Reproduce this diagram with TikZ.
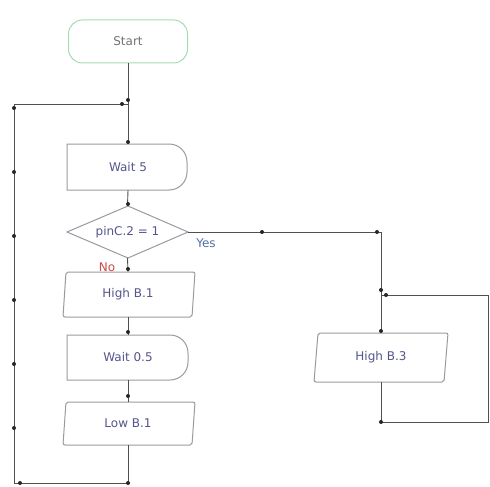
\documentclass[tikz,border=0pt]{standalone}
\usepackage{fontspec}
\setmainfont{DejaVu Sans}
\definecolor{shapegray}{HTML}{9A9AA2}
\definecolor{linegray}{HTML}{505050}
\definecolor{txtblue}{HTML}{55558C}
\definecolor{startgreen}{HTML}{A6DDB0}
\definecolor{yesblue}{HTML}{5070A0}
\definecolor{nored}{HTML}{D04848}
\tikzset{
  conn/.style={draw=linegray, line width=0.9pt},
  jdot/.style={circle, fill=black!85, inner sep=0pt, minimum size=4pt},
  outline/.style={draw=shapegray, line width=1pt, fill=white},
  lbl/.style={font=\fontsize{12}{14}\selectfont, text=txtblue, inner sep=0pt},
  hold/.style={lbl, draw=none, minimum width=120pt},
}
\begin{document}
\begin{tikzpicture}[x=1pt,y=-1pt]
\useasboundingbox[fill=white] (0,0) rectangle (490,487);

% outlines of delay, decision and I/O shapes
\draw[outline] (67,144) -- (169,144) .. controls (179,144) and (187,152) .. (187,162)
  -- (187,172) .. controls (187,182) and (179,190) .. (169,190) -- (67,190) -- cycle;
\draw[outline] (67,335) -- (170,335) .. controls (180,335) and (188,343) .. (188,353)
  -- (188,362) .. controls (188,372) and (180,380) .. (170,380) -- (67,380) -- cycle;
\draw[outline] (67,232) -- (128,206) -- (188,232) -- (128,258) -- cycle;
\draw[outline, rounded corners=2pt] (66,272) -- (195,272) -- (192,317) -- (63,317) -- cycle;
\draw[outline, rounded corners=2pt] (66,402) -- (195,402) -- (192,445) -- (63,445) -- cycle;
\draw[outline, rounded corners=2pt] (318,333) -- (448,333) -- (444,382) -- (314,382) -- cycle;

% nodes
\node[lbl, text=black!55, draw=startgreen, line width=1pt, rounded corners=14pt,
      minimum width=119pt, minimum height=43pt] (start) at (128,41.5) {Start};
\node[hold, minimum height=46pt] (w5) at (128,167) {Wait 5};
\node[hold, minimum width=121pt, minimum height=52pt] (dec) at (127.5,232) {pinC.2 = 1};
\node[hold, minimum height=45pt] (hb1) at (128,294.5) {High B.1};
\node[hold, minimum height=45pt] (w05) at (128,357.5) {Wait 0.5};
\node[hold, minimum height=43pt] (lb1) at (128,423.5) {Low B.1};
\node[hold, minimum height=49pt] (hb3) at (381,357.5) {High B.3};

\node[lbl, text=yesblue] (yes) at (206,243) {Yes};
\node[lbl, text=nored] (no) at (107,267) {No};

% junction coordinates
\coordinate (lj) at (128,104);
\coordinate (ltl) at (14,104);
\coordinate (lbl) at (14,483);
\coordinate (lb) at (128,483);
\coordinate (yr) at (381,232);
\coordinate (rj) at (381,295);
\coordinate (rtr) at (488,295);
\coordinate (rbr) at (488,422);
\coordinate (rb) at (381,422);

% connectors
\draw[conn] (start.south) -- (w5.north);
\draw[conn] (w5.south) -- (dec.north);
\draw[conn] (dec.south) -- (hb1.north);
\draw[conn] (hb1.south) -- (w05.north);
\draw[conn] (w05.south) -- (lb1.north);
\draw[conn] (lb1.south) -- (lb) -- (lbl) -- (ltl) -- (lj);
\draw[conn] (dec.east) -- (yr) -- (hb3.north);
\draw[conn] (hb3.south) -- (rb) -- (rbr) -- (rtr) -- (rj);

% junction dots
\foreach \p in {(128,100),(122,104),(128,142),(128,204),(128,269),(128,332),(128,396),
  (128,483),(20,483),(14,108),(14,172),(14,236),(14,300),(14,364),(14,428),
  (262,232),(377,232),(381,290),(386,295),(381,331),(381,422)}
  \node[jdot] at \p {};
\end{tikzpicture}
\end{document}
